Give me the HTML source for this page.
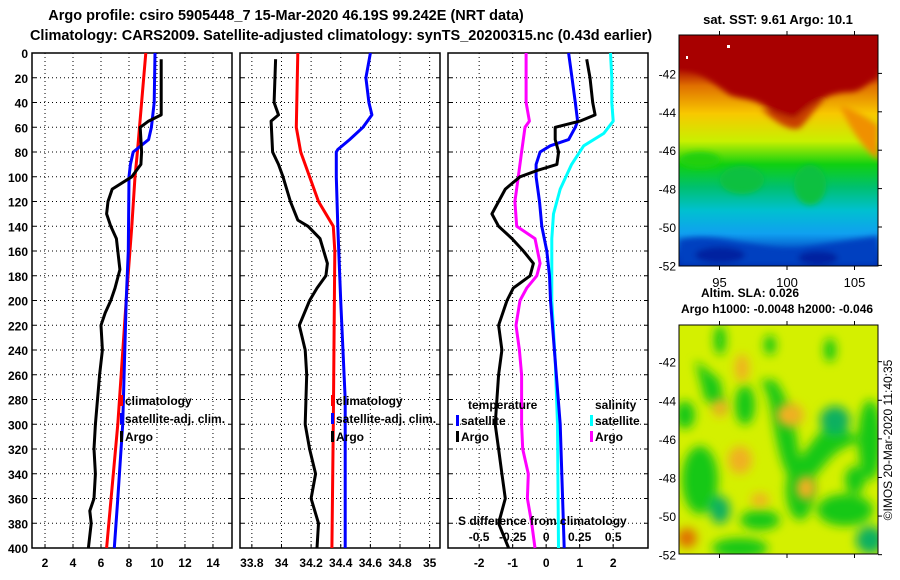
<!DOCTYPE html>
<html><head><meta charset="utf-8"><style>
body{margin:0;background:#fff;}
svg{display:block;font-family:"Liberation Sans",sans-serif;font-weight:bold;}
</style></head><body>
<svg id="c" width="900" height="580" viewBox="0 0 900 580" xmlns="http://www.w3.org/2000/svg">
<defs>
<filter id="blur4" x="-20%" y="-20%" width="140%" height="140%"><feGaussianBlur stdDeviation="5"/></filter>
<filter id="blur2"><feGaussianBlur stdDeviation="3"/></filter>
<clipPath id="clipTop"><rect x="679" y="35" width="199" height="231"/></clipPath>
<clipPath id="clipBot"><rect x="679" y="325" width="199" height="229"/></clipPath>
<linearGradient id="sstGrad" x1="0" y1="0" x2="0" y2="1">
<stop offset="0" stop-color="#a80000"/><stop offset="0.14" stop-color="#a80000"/>
<stop offset="0.22" stop-color="#e07000"/><stop offset="0.34" stop-color="#f8c800"/>
<stop offset="0.46" stop-color="#c8f000"/><stop offset="0.56" stop-color="#10d010"/>
<stop offset="0.66" stop-color="#00c070"/><stop offset="0.76" stop-color="#00c0d0"/>
<stop offset="0.86" stop-color="#10a0f0"/><stop offset="0.95" stop-color="#0040c0"/><stop offset="1" stop-color="#0020a0"/>
</linearGradient>
</defs>
<text x="286" y="20" font-size="14.5" text-anchor="middle">Argo profile: csiro 5905448_7 15-Mar-2020 46.19S 99.242E (NRT data)</text>
<text x="341" y="40" font-size="14.5" text-anchor="middle">Climatology: CARS2009. Satellite-adjusted climatology: synTS_20200315.nc (0.43d earlier)</text>
<g id="panels"></g>
<g id="maps">
<g clip-path="url(#clipTop)">
<rect x="679" y="35" width="199" height="231" fill="url(#sstGrad)"/>
<g filter="url(#blur2)">
<path d="M679,68 C700,70 715,85 730,95 C745,100 755,98 770,110 C785,122 800,122 810,108 C820,98 835,92 850,92 C862,92 870,80 878,78 L878,35 L679,35Z" fill="#a80000"/>
<path d="M760,108 C775,122 790,132 800,128 C810,118 815,108 825,100 C815,100 805,110 795,118 C785,118 772,110 760,108Z" fill="#c84000"/>
<path d="M840,105 C855,110 870,120 878,125 L878,160 C865,150 850,130 840,105Z" fill="#f09000"/>
<ellipse cx="742" cy="180" rx="22" ry="14" fill="#10c040"/>
<ellipse cx="810" cy="185" rx="16" ry="20" fill="#10c040"/>
<ellipse cx="700" cy="160" rx="20" ry="8" fill="#20d010"/>
<path d="M679,240 C700,235 720,238 740,242 C760,245 780,250 800,248 C830,243 850,240 878,236 L878,266 L679,266Z" fill="#0040c0"/>
<ellipse cx="720" cy="255" rx="25" ry="8" fill="#0020a0"/>
<ellipse cx="818" cy="258" rx="20" ry="7" fill="#0020a0"/>
</g>
<rect x="727" y="45" width="3" height="3" fill="#fff"/><rect x="686" y="56" width="2" height="3" fill="#fff"/>
</g>
<rect x="679" y="35" width="199" height="231" fill="none" stroke="#000"/>
<g clip-path="url(#clipBot)">
<rect x="679" y="325" width="199" height="229" fill="#d4f000"/>
<g filter="url(#blur4)" fill="#18c818">
<path d="M695,360 L720,380 L725,410 L705,400Z"/>
<path d="M760,380 C775,400 770,430 785,470 L800,470 C800,440 790,400 775,380Z"/>
<path d="M785,470 C805,460 815,430 835,420 L860,440 L840,450 C825,460 815,480 800,490Z"/>
<ellipse cx="835" cy="420" rx="15" ry="14" fill="#10b060"/>
<ellipse cx="700" cy="480" rx="18" ry="34"/>
<ellipse cx="720" cy="510" rx="10" ry="14" fill="#10b060"/>
<ellipse cx="760" cy="520" rx="20" ry="10"/>
<ellipse cx="800" cy="490" rx="14" ry="30"/>
<ellipse cx="845" cy="510" rx="28" ry="16"/>
<ellipse cx="870" cy="440" rx="12" ry="40"/>
<ellipse cx="740" cy="548" rx="28" ry="10"/>
<ellipse cx="870" cy="540" rx="14" ry="14" fill="#10b060"/>
<ellipse cx="720" cy="340" rx="6" ry="15"/>
<ellipse cx="685" cy="415" rx="10" ry="14"/>
<ellipse cx="770" cy="345" rx="6" ry="10"/>
<ellipse cx="830" cy="350" rx="6" ry="12"/>
<ellipse cx="855" cy="480" rx="10" ry="14"/>
<ellipse cx="745" cy="405" rx="10" ry="20"/>
</g>
<g filter="url(#blur4)" fill="#f0b020">
<ellipse cx="740" cy="460" rx="12" ry="14"/>
<ellipse cx="790" cy="415" rx="14" ry="12"/>
<ellipse cx="760" cy="500" rx="9" ry="7"/>
<ellipse cx="806" cy="488" rx="10" ry="12"/>
<ellipse cx="687" cy="538" rx="10" ry="10" fill="#e07000"/>
<ellipse cx="720" cy="408" rx="8" ry="9"/>
<ellipse cx="742" cy="368" rx="7" ry="14"/>
</g>
</g>
<rect x="679" y="325" width="199" height="229" fill="none" stroke="#000"/>
<text x="778" y="24" font-size="13" text-anchor="middle">sat. SST: 9.61 Argo: 10.1</text>
<text x="750" y="297" font-size="12" text-anchor="middle">Altim. SLA: 0.026</text>
<text x="777" y="313" font-size="12" text-anchor="middle">Argo h1000: -0.0048 h2000: -0.046</text>
<text transform="translate(892,440) rotate(-90)" font-size="12" font-weight="normal" text-anchor="middle">©IMOS 20-Mar-2020 11:40:35</text>
<g id="mapticks"></g>
</g>
</svg>
<script>
// ---- data ----
const depthTicks=[0,20,40,60,80,100,120,140,160,180,200,220,240,260,280,300,320,340,360,380,400];
const tempTicks=[2,4,6,8,10,12,14];
const salTicks=[33.8,34,34.2,34.4,34.6,34.8,35];
const diffTicks=[-2,-1,0,1,2];
const sDiffTicks=[-0.5,-0.25,0,0.25,0.5];
const tClimD=[0,80,100,140,200,300,400];
const tClim=[9.2,8.6,8.43,8.2,7.8,7.2,6.4];
const tSatD=[0,40,60,70,80,90,100,160,200,300,360,400];
const tSat=[9.86,9.8,9.6,9.4,8.3,8.1,8.0,7.95,7.8,7.55,7.2,6.95];
const tArgoD=[5,50,55,60,80,90,100,110,120,130,140,150,160,175,190,200,210,220,240,260,280,300,320,340,360,370,380,400];
const tArgo=[10.3,10.3,9.4,8.8,8.9,8.85,8.2,6.8,6.5,6.4,6.7,7.1,7.2,7.35,7.0,6.7,6.3,6.0,6.1,5.9,5.75,5.6,5.5,5.6,5.5,5.2,5.3,5.1];
const sClimD=[0,60,80,100,120,140,160,300,400];
const sClim=[34.11,34.1,34.13,34.19,34.25,34.35,34.36,34.35,34.34];
const sSatD=[0,20,40,50,60,70,78,80,100,140,200,280,400];
const sSat=[34.6,34.57,34.59,34.61,34.55,34.46,34.38,34.37,34.37,34.38,34.4,34.43,34.43];
const sArgoD=[5,40,50,55,80,90,100,120,135,140,150,170,180,190,200,220,240,260,300,320,340,360,380,400];
const sArgo=[33.96,33.95,33.98,33.93,33.94,33.98,34.01,34.06,34.11,34.18,34.26,34.31,34.3,34.24,34.19,34.12,34.16,34.17,34.16,34.19,34.23,34.2,34.25,34.24];
const dTSatD=[0,20,40,55,60,70,75,80,90,100,120,140,160,180,200,300,400];
const dTSat=[0.67,0.77,0.87,0.94,0.87,0.67,0.12,-0.18,-0.3,-0.3,-0.2,-0.13,0.02,0.1,0.13,0.42,0.54];
const dTArgoD=[5,20,40,50,55,60,70,80,90,95,100,110,120,130,140,150,160,170,180,190,200,220,240,260,280,300,320,340,360,380,400];
const dTArgo=[1.21,1.31,1.39,1.46,1.01,0.27,0.27,0.37,0.32,-0.28,-0.78,-1.22,-1.42,-1.62,-1.42,-1.02,-0.68,-0.38,-0.48,-0.98,-1.17,-1.42,-1.32,-1.42,-1.47,-1.52,-1.42,-1.32,-1.22,-1.42,-1.12];
const dSSatD=[0,20,40,55,65,75,90,110,130,150,200,250,300,400];
const dSSat=[0.48,0.49,0.49,0.5,0.43,0.28,0.19,0.105,0.055,0.042,0.042,0.068,0.085,0.092];
const dSArgoD=[0,40,55,60,80,100,120,140,150,170,180,190,200,220,240,260,300,320,340,360,380,400];
const dSArgo=[-0.15,-0.15,-0.125,-0.158,-0.183,-0.208,-0.233,-0.22,-0.083,-0.045,-0.07,-0.145,-0.195,-0.225,-0.2,-0.183,-0.183,-0.175,-0.133,-0.14,-0.108,-0.083];
const mapLats=[-42,-44,-46,-48,-50,-52];
const mapLons=[95,100,105];

// ---- scales ----
const Y0=53,Y1=548;
const yD=d=>Y0+d*(Y1-Y0)/400;
const NS='http://www.w3.org/2000/svg';
const P=document.getElementById('panels');
function el(tag,attrs,parent){const e=document.createElementNS(NS,tag);for(const k in attrs)e.setAttribute(k,attrs[k]);(parent||P).appendChild(e);return e;}
const panels=[
 {x0:32,x1:232,v0:1.07,v1:15.36,ticks:tempTicks,name:'temperature'},
 {x0:240,x1:440,v0:33.72,v1:35.07,ticks:salTicks,name:'salinity'},
 {x0:448,x1:648,v0:-2.93,v1:3.04,ticks:diffTicks,name:'difference'}
];
panels.forEach((p,i)=>{p.sx=v=>p.x0+(v-p.v0)*(p.x1-p.x0)/(p.v1-p.v0);});
panels.forEach((p,i)=>{
 const g=el('g',{});
 
 
 depthTicks.forEach(d=>{
  const y=yD(d);
  const gl=el('line',{x1:p.x0,x2:p.x1,y1:y,y2:y,stroke:'#000','stroke-width':1,'stroke-dasharray':'1,3'},g);
  
  
  el('line',{x1:p.x0,x2:p.x0+4,y1:y,y2:y,stroke:'#000'},g);
  el('line',{x1:p.x1-4,x2:p.x1,y1:y,y2:y,stroke:'#000'},g);
  if(i===0){const t=el('text',{x:28,y:y+5,'font-size':12,'text-anchor':'end'},g);t.textContent=d;
   
   }
 });
 p.ticks.forEach(v=>{
  const x=p.sx(v);
  el('line',{x1:x,x2:x,y1:Y0,y2:Y1,stroke:'#000','stroke-dasharray':'1,3'},g);
  el('line',{x1:x,x2:x,y1:Y1-4,y2:Y1,stroke:'#000'},g);
  const t=el('text',{x:x,y:567,'font-size':12,'text-anchor':'middle'},g);t.textContent=v;
  
  
 });
 const fr=el('rect',{x:p.x0,y:Y0,width:p.x1-p.x0,height:Y1-Y0,fill:'none',stroke:'#000','stroke-width':1.5},g);
 
 
});
function line(p,ds,vs,col,nm,scale){
 const pts=ds.map((d,k)=>p.sx(vs[k]*(scale||1)).toFixed(1)+','+yD(d).toFixed(1)).join(' ');
 const l=el('polyline',{points:pts,fill:'none',stroke:col,'stroke-width':3,'stroke-linejoin':'round'});
 
 
}
const [p1,p2,p3]=panels;
line(p1,tClimD,tClim,'#f00','temp-climatology-line');
line(p1,tSatD,tSat,'#00f','temp-satellite-line');
line(p1,tArgoD,tArgo,'#000','temp-argo-line');
line(p2,sClimD,sClim,'#f00','sal-climatology-line');
line(p2,sSatD,sSat,'#00f','sal-satellite-line');
line(p2,sArgoD,sArgo,'#000','sal-argo-line');
line(p3,dSSatD,dSSat,'#0ff','sal-diff-satellite-line',4);
line(p3,dSArgoD,dSArgo,'#f0f','sal-diff-argo-line',4);
line(p3,dTSatD,dTSat,'#00f','temp-diff-satellite-line');
line(p3,dTArgoD,dTArgo,'#000','temp-diff-argo-line');
function legend(x,y,col,label){
 const g=el('g',{});
 
 
 if(col)el('rect',{x:x-5,y:y-10,width:3,height:11,fill:col},g);
 const t=el('text',{x:x,y:y,'font-size':12},g);t.textContent=label;
}
[[405,'#f00','climatology'],[423,'#00f','satellite-adj. clim.'],[441,'#000','Argo']].forEach(r=>{legend(125,r[0],r[1],r[2]);legend(336,r[0],r[1],r[2]);});
legend(468,409,null,'temperature');legend(461,425,'#00f','satellite');legend(461,441,'#000','Argo');
legend(595,409,null,'salinity');legend(595,425,'#0ff','satellite');legend(595,441,'#f0f','Argo');
legend(458,525,null,'S difference from climatology');
sDiffTicks.forEach(v=>{const t=el('text',{x:p3.sx(v*4),y:541,'font-size':12,'text-anchor':'middle'});t.textContent=v;
 
 });
// map ticks
const M=document.getElementById('mapticks');
const lonX=l=>679+(l-92)*13.5;
mapLats.forEach(la=>{
 [[35,-40,19.2],[325,-40.1,19.3]].forEach(([top,lat0,k],j)=>{
  const y=top+(lat0-la)*k;
  el('line',{x1:878,x2:882,y1:y,y2:y,stroke:'#000'},M);
  const t=el('text',{x:676,y:y+5,'font-size':12,'font-weight':'normal','text-anchor':'end'},M);t.textContent=la;
  
  
 });
});
mapLons.forEach(lo=>{
 const x=lonX(lo);
 el('line',{x1:x,x2:x,y1:266,y2:270,stroke:'#000'},M);
 el('line',{x1:x,x2:x,y1:31,y2:35,stroke:'#000'},M);
 el('line',{x1:x,x2:x,y1:321,y2:325,stroke:'#000'},M);
 el('line',{x1:x,x2:x,y1:554,y2:558,stroke:'#000'},M);
 const t=el('text',{x:x,y:287,'font-size':13,'font-weight':'normal','text-anchor':'middle'},M);t.textContent=lo;
 
 
});
</script>
</body></html>
